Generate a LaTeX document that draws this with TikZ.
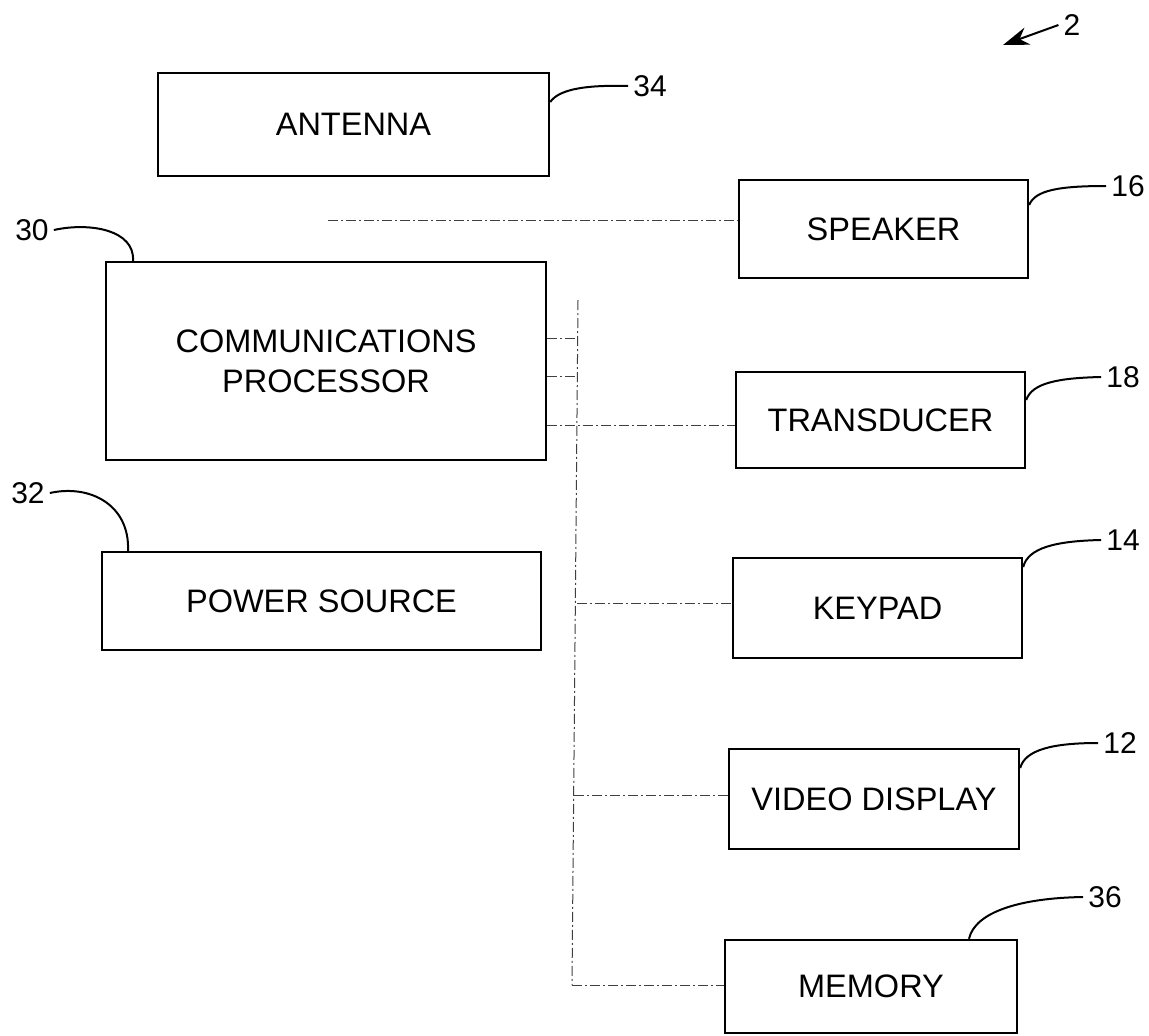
\documentclass[tikz,border=0pt]{standalone}
\usepackage{fontspec}
\setmainfont{Liberation Sans}
\usetikzlibrary{arrows.meta}
\begin{document}
\begin{tikzpicture}[x=1pt,y=-1pt,
  blk/.style={draw,line width=2.4pt,inner sep=0pt,font=\fontsize{32.5}{40}\selectfont,align=center},
  lbl/.style={font=\fontsize{30}{32}\selectfont,inner sep=5pt},
  lead/.style={line width=2pt},
  bus/.style={line width=1pt,black!75,dash pattern=on 10pt off 3pt on 2pt off 3pt}]
\useasboundingbox (0,0) rectangle (1149,1036);
% boxes
\node[blk,minimum width=391pt,minimum height=103pt] (ant) at (353.5,124.5) {ANTENNA};
\node[blk,minimum width=289pt,minimum height=98pt] (spk) at (883.5,229) {SPEAKER};
\node[blk,minimum width=440pt,minimum height=198pt] (cp) at (326,361) {COMMUNICATIONS\\PROCESSOR};
\node[blk,minimum width=289pt,minimum height=96pt] (trd) at (880.5,420) {TRANSDUCER};
\node[blk,minimum width=439pt,minimum height=98pt] (pwr) at (321.5,601) {POWER SOURCE};
\node[blk,minimum width=289pt,minimum height=100pt] (key) at (877.5,608) {KEYPAD};
\node[blk,minimum width=290pt,minimum height=100pt] (vid) at (874,799) {VIDEO DISPLAY};
\node[blk,minimum width=292pt,minimum height=93pt] (mem) at (871,986.5) {MEMORY};
% reference labels
\node[lbl] (l34) at (650,86) {34};
\node[lbl] (l16) at (1128,186) {16};
\node[lbl] (l30) at (32,230) {30};
\node[lbl] (l18) at (1123,377) {18};
\node[lbl] (l32) at (28,493) {32};
\node[lbl] (l14) at (1123,540) {14};
\node[lbl] (l12) at (1120,743) {12};
\node[lbl] (l36) at (1105,897) {36};
\node[lbl] (l2) at (1072,25) {2};
% leaders
\draw[lead] (ant.east |- 0,102) .. controls (560,88) and (590,85) .. (l34.west);
\draw[lead] (spk.east |- 0,205) .. controls (1035,190) and (1060,186) .. (l16.west);
\draw[lead] (l30.east) .. controls (90,222) and (135,230) .. (cp.north west -| 133,0);
\draw[lead] (trd.east |- 0,400) .. controls (1032,383) and (1058,378) .. (l18.west);
\draw[lead] (l32.east) .. controls (90,484) and (130,505) .. (pwr.north west -| 128,0);
\draw[lead] (key.east |- 0,567) .. controls (1028,548) and (1055,541) .. (l14.west);
\draw[lead] (vid.east |- 0,768) .. controls (1025,750) and (1052,743) .. (l12.west);
\draw[lead] (mem.north west -| 969,0) .. controls (975,912) and (1020,898) .. (l36.west);
\draw[lead,-{Stealth[length=26pt,width=18pt]}] (l2.west) -- (1003,45);
% bus connectors
\coordinate (s0) at (328,220);
\coordinate (bt) at (578,300);
\coordinate (bb) at (572,985);
\draw[bus] (s0) -- (spk.west |- s0);
\draw[bus] (bt) -- (bb);
\draw[bus] (cp.east |- 0,338) -- (578,338);
\draw[bus] (cp.east |- 0,376) -- (578,376);
\draw[bus] (cp.east |- 0,425) -- (trd.west |- 0,425);
\draw[bus] (577,603) -- (key.west |- 0,603);
\draw[bus] (574,795) -- (vid.west |- 0,795);
\draw[bus] (bb) -- (mem.west |- bb);
\end{tikzpicture}
\end{document}
